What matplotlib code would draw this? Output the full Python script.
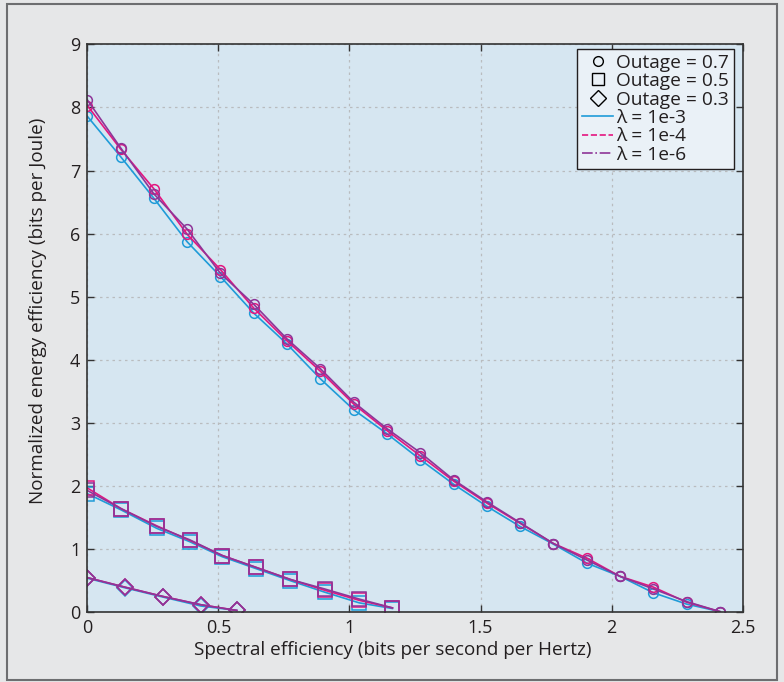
import matplotlib
matplotlib.use("Agg")
import matplotlib.pyplot as plt
from matplotlib.lines import Line2D
from matplotlib.patches import Rectangle

plt.rcParams['font.family'] = ['Open Sans', 'DejaVu Sans']

# Outage = 0.7 (circles)
x_07 = [0.0, 0.127, 0.254, 0.381, 0.508, 0.635, 0.762, 0.889, 1.016, 1.143,
        1.270, 1.397, 1.524, 1.651, 1.778, 1.905, 2.032, 2.159, 2.286, 2.414]
y_07_l3 = [7.86, 7.22, 6.56, 5.87, 5.32, 4.74, 4.25, 3.70, 3.21, 2.83,
           2.42, 2.03, 1.68, 1.36, 1.08, 0.78, 0.57, 0.31, 0.13, 0.01]
y_07_l4 = [8.03, 7.34, 6.71, 5.99, 5.43, 4.82, 4.30, 3.82, 3.30, 2.88,
           2.48, 2.08, 1.73, 1.41, 1.09, 0.86, 0.57, 0.40, 0.16, 0.01]
y_07_l6 = [8.12, 7.36, 6.63, 6.07, 5.37, 4.88, 4.33, 3.86, 3.33, 2.91,
           2.53, 2.10, 1.75, 1.42, 1.09, 0.83, 0.57, 0.37, 0.17, 0.01]

# Outage = 0.5 (squares)
x_05 = [0.0, 0.130, 0.265, 0.390, 0.515, 0.645, 0.775, 0.905, 1.037, 1.164]
y_05_l3 = [1.88, 1.62, 1.33, 1.12, 0.88, 0.69, 0.50, 0.32, 0.15, 0.06]
y_05_l4 = [1.97, 1.64, 1.37, 1.14, 0.90, 0.71, 0.52, 0.35, 0.19, 0.07]
y_05_l6 = [1.93, 1.64, 1.36, 1.15, 0.90, 0.71, 0.52, 0.37, 0.21, 0.07]

# Outage = 0.3 (diamonds)
x_03 = [0.0, 0.142, 0.290, 0.433, 0.570]
y_03_l3 = [0.54, 0.39, 0.24, 0.10, 0.03]
y_03_l4 = [0.55, 0.40, 0.25, 0.12, 0.03]
y_03_l6 = [0.55, 0.40, 0.25, 0.12, 0.03]

lambda_labels = ['λ = 1e-3', 'λ = 1e-4', 'λ = 1e-6']
outage_labels = ['Outage = 0.7', 'Outage = 0.5', 'Outage = 0.3']
colors = ['#1f9bd8', '#e4157f', '#8e3598']
legend_styles = ['-', '--', '-.']

xticks = [0, 0.5, 1, 1.5, 2, 2.5]
xticklabels = ['0', '0.5', '1', '1.5', '2', '2.5']
yticks = list(range(10))

FS = 13
LFS = 13.6

fig = plt.figure(figsize=(7.84, 6.82), dpi=100, facecolor='#e6e7e8')
fig.patches.append(Rectangle((7 / 784, 2 / 682), 770 / 784, 676 / 682,
                             transform=fig.transFigure, fill=False,
                             edgecolor='#6d6e70', linewidth=1.5, zorder=0))
ax = fig.add_axes([87.3 / 784, 1 - 612.3 / 682, (742.7 - 87.3) / 784, (612.3 - 44.3) / 682])
ax.set_facecolor('#d6e6f1')

series = [
    (x_07, [y_07_l3, y_07_l4, y_07_l6], 'o', 7.0),
    (x_05, [y_05_l3, y_05_l4, y_05_l6], 's', 9.5),
    (x_03, [y_03_l3, y_03_l4, y_03_l6], 'D', 8.0),
]
for xs, ys_list, mk, ms in series:
    for ys, c in zip(ys_list, colors):
        ax.plot(xs, ys, color=c, linewidth=1.2, marker=mk, markersize=ms,
                markerfacecolor='none', markeredgecolor=c, markeredgewidth=1.1)

ax.set_xlim(0, 2.5)
ax.set_ylim(0, 9)
ax.set_xticks(xticks)
ax.set_xticklabels(xticklabels)
ax.set_yticks(yticks)
ax.grid(True, color='#b9bcbf', linestyle=(0, (2, 3)), linewidth=0.9)
ax.set_axisbelow(True)
ax.tick_params(direction='in', length=5, width=1, colors='#333333', labelsize=FS,
               top=True, right=True, pad=5)
ax.tick_params(axis='both', labelcolor='#231f20')
for s in ax.spines.values():
    s.set_color('#333333')
    s.set_linewidth(1.2)

ax.set_xlabel('Spectral efficiency (bits per second per Hertz)', fontsize=LFS, color='#231f20')
ax.set_ylabel('Normalized energy efficiency (bits per Joule)', fontsize=LFS, color='#231f20')
ax.xaxis.set_label_coords(0.466, -0.050)
ax.yaxis.set_label_coords(-0.062, 0.53)

handles = []
for lab, mk, ms in zip(outage_labels, ['o', 's', 'D'], [7, 9, 8]):
    handles.append(Line2D([], [], linestyle='none', marker=mk, markersize=ms,
                          markerfacecolor='none', markeredgecolor='black',
                          markeredgewidth=1.0, label=lab))
for lab, c, ls in zip(lambda_labels, colors, legend_styles):
    handles.append(Line2D([], [], color=c, linestyle=ls, linewidth=1.2, label=lab))

leg = ax.legend(handles=handles, loc='upper right',
                bbox_to_anchor=(734 / 784, 1 - 49 / 682), bbox_transform=fig.transFigure,
                fontsize=13.8, frameon=True, fancybox=False, borderaxespad=0,
                handlelength=1.65, handletextpad=0.15, labelspacing=0.02,
                borderpad=0.25)
leg.get_frame().set_facecolor('#eaf1f7')
leg.get_frame().set_edgecolor('#231f20')
leg.get_frame().set_linewidth(1.0)
leg.get_frame().set_alpha(1)
for t in leg.get_texts():
    t.set_color('#231f20')

fig.savefig('out.png', dpi=100, facecolor=fig.get_facecolor())
